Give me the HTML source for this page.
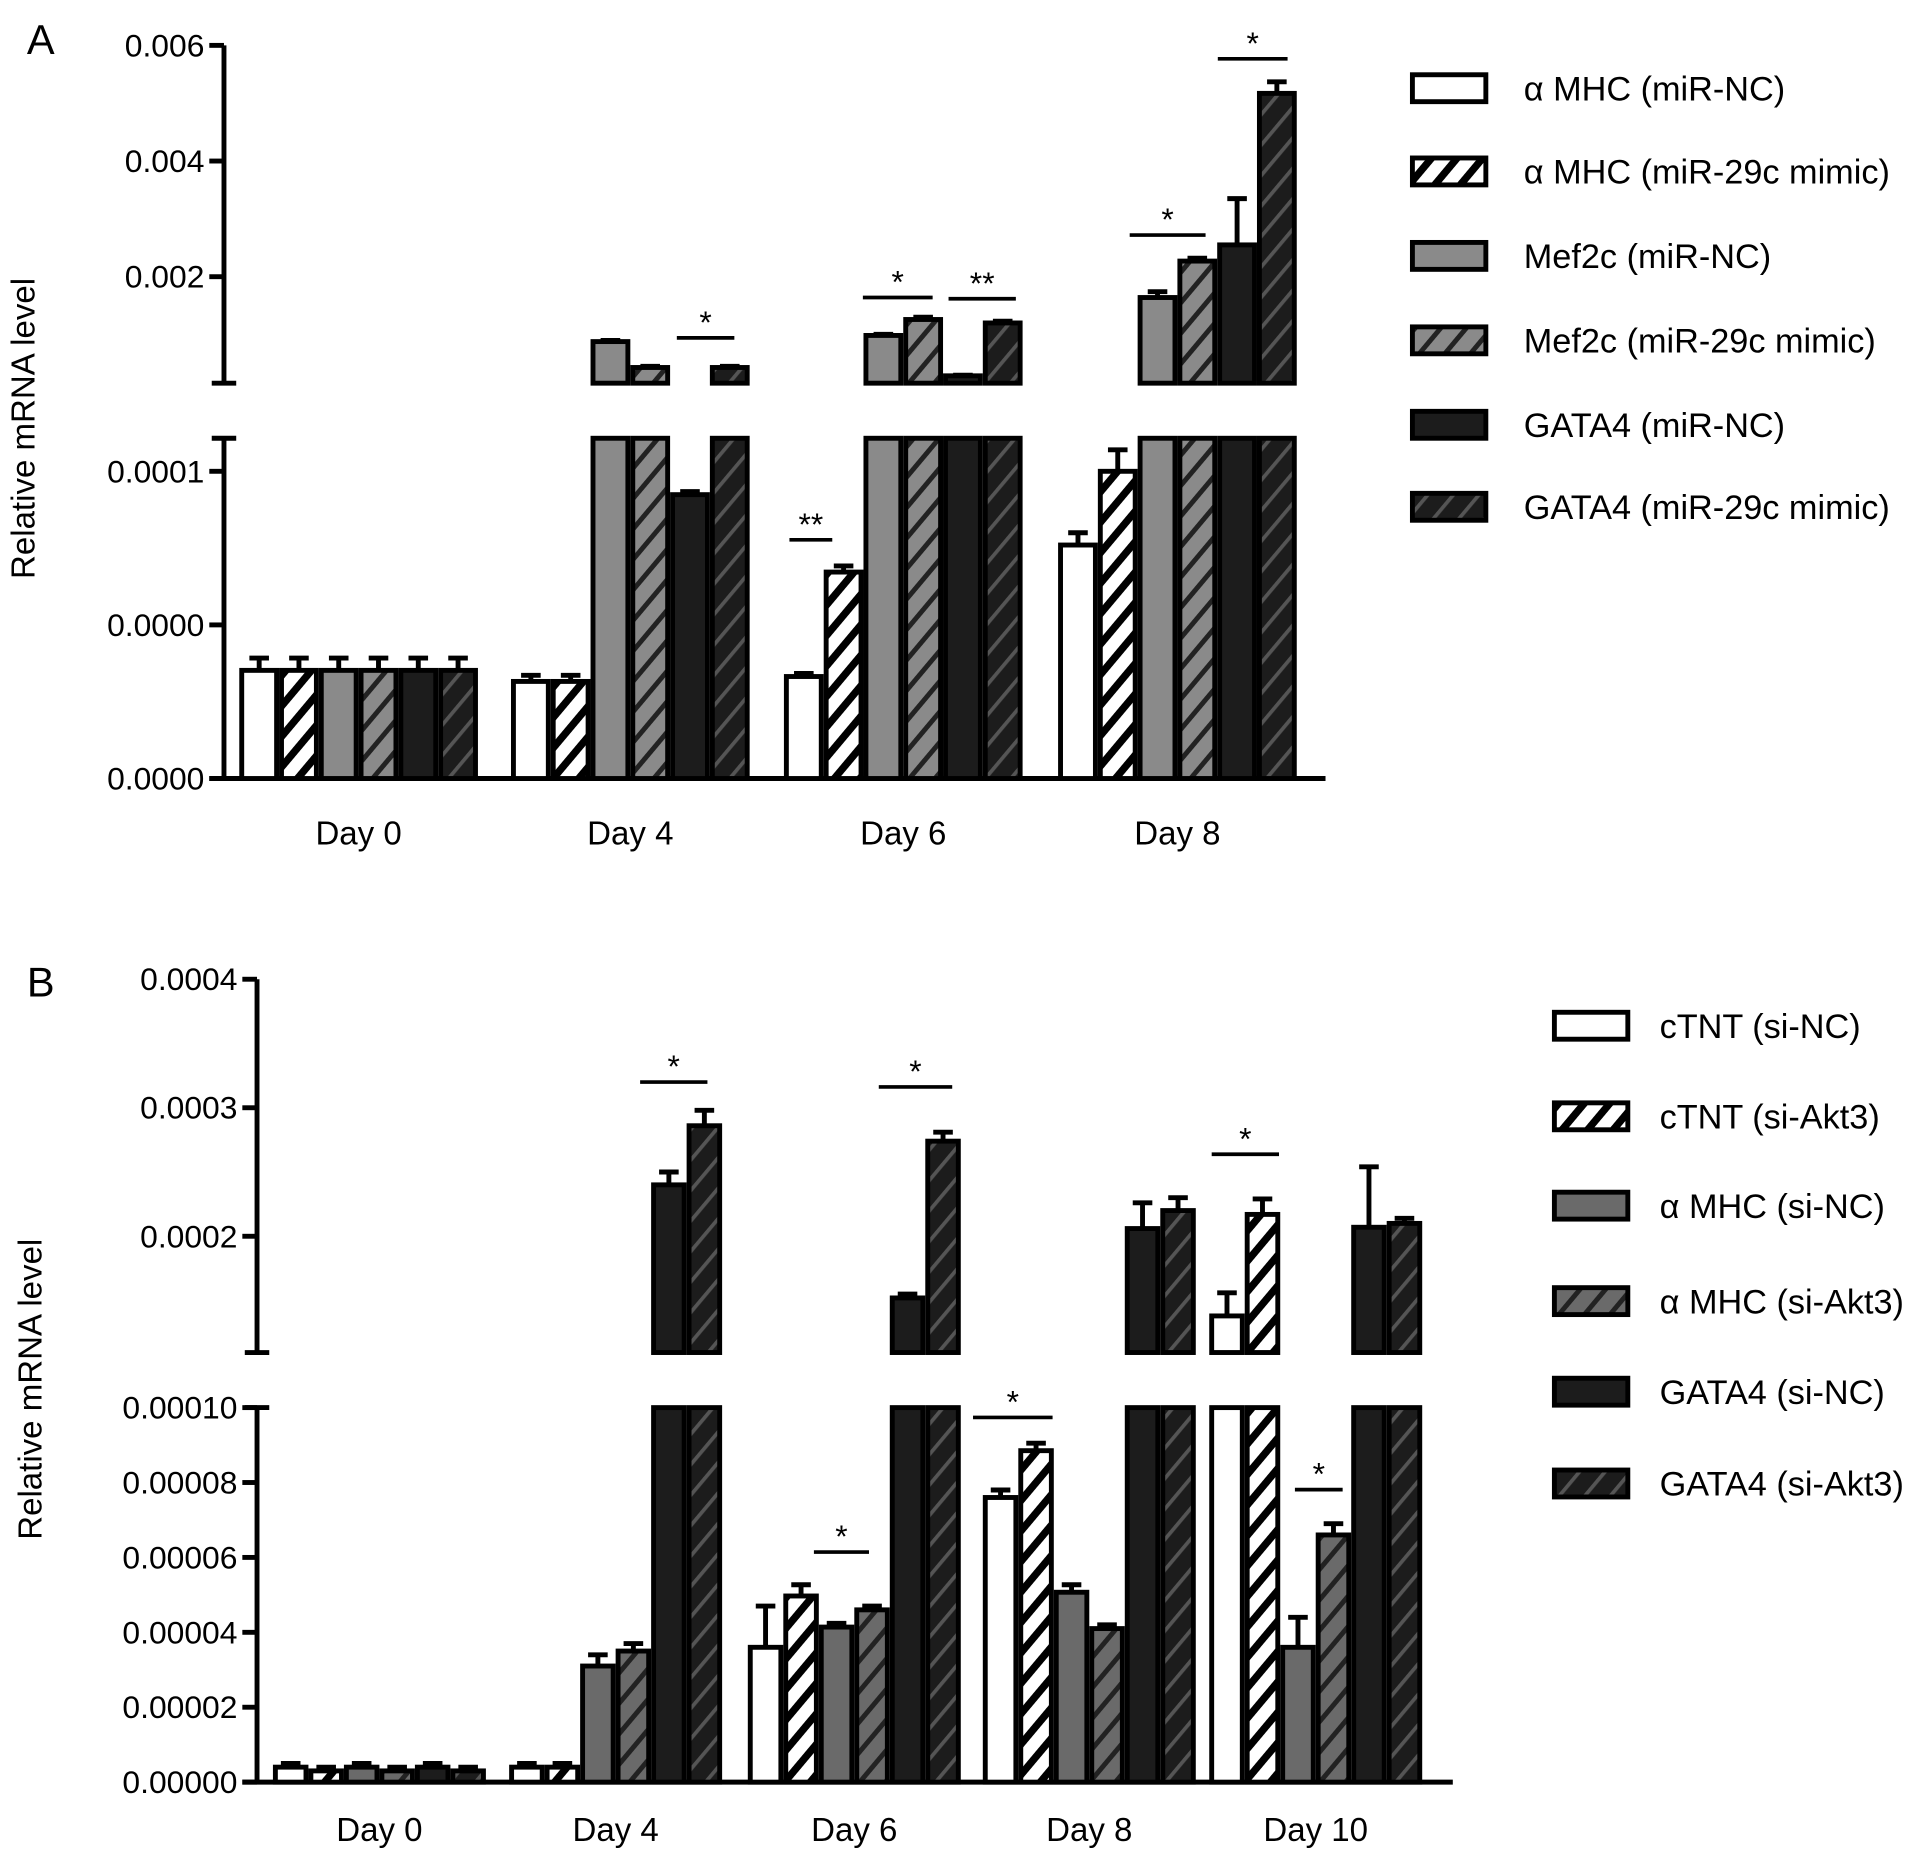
<!DOCTYPE html>
<html><head><meta charset="utf-8"><style>
html,body{margin:0;padding:0;background:#fff;}
svg{display:block;font-family:"Liberation Sans",sans-serif;}
</style></head><body>
<svg id="chart" width="1913" height="1863" viewBox="0 0 1563 1522" xmlns="http://www.w3.org/2000/svg">
<defs>
<pattern id="hw" patternUnits="userSpaceOnUse" width="16" height="16" patternTransform="rotate(40)"><rect width="16" height="16" fill="#fff"/><rect width="6" height="16" fill="#000"/></pattern>
<pattern id="hg" patternUnits="userSpaceOnUse" width="16" height="16" patternTransform="rotate(40)"><rect width="16" height="16" fill="#8a8a8a"/><rect width="4" height="16" fill="#222"/></pattern>
<pattern id="hg2" patternUnits="userSpaceOnUse" width="16" height="16" patternTransform="rotate(40)"><rect width="16" height="16" fill="#6a6a6a"/><rect width="4" height="16" fill="#222"/></pattern>
<pattern id="hd" patternUnits="userSpaceOnUse" width="16" height="16" patternTransform="rotate(40)"><rect width="16" height="16" fill="#1c1c1c"/><rect width="3" height="16" fill="#555"/></pattern>
</defs>
<g id="pa"></g>
<g id="pb"></g>
</svg>
<script>
// Panel A data
const daysA = ["Day 0","Day 4","Day 6","Day 8"];
const seriesA = ["α MHC (miR-NC)","α MHC (miR-29c mimic)","Mef2c (miR-NC)","Mef2c (miR-29c mimic)","GATA4 (miR-NC)","GATA4 (miR-29c mimic)"];
const valsA0 = [0.0000352,0.0000316,0.0000332,0.000076];
const valsA1 = [0.0000352,0.0000316,0.0000672,0.0001];
const valsA2 = [0.0000352,0.000878,0.000984,0.00164];
const valsA3 = [0.0000352,0.00043,0.00126,0.00227];
const valsA4 = [0.0000352,0.0000924,0.000286,0.00255];
const valsA5 = [0.0000352,0.00043,0.0012,0.00517];
const errA0 = [0.000004,0.000002,0.000001,0.000004];
const errA1 = [0.000004,0.000002,0.000002,0.000007];
const errA2 = [0.000004,0.00002,0.00002,0.0001];
const errA3 = [0.000004,0.00002,0.00004,0.00005];
const errA4 = [0.000004,0.000001,0.00001,0.0008];
const errA5 = [0.000004,0.00002,0.00003,0.0002];
const lowTicksA = ["0.0000","0.0000","0.0001"];
const upTicksA = ["0.002","0.004","0.006"];
// Panel B data
const daysB = ["Day 0","Day 4","Day 6","Day 8","Day 10"];
const seriesB = ["cTNT (si-NC)","cTNT (si-Akt3)","α MHC (si-NC)","α MHC (si-Akt3)","GATA4 (si-NC)","GATA4 (si-Akt3)"];
const valsB0 = [0.000004,0.000004,0.000036,0.000076,0.000138];
const valsB1 = [0.000003,0.000004,0.0000497,0.0000885,0.000217];
const valsB2 = [0.000004,0.000031,0.0000414,0.0000507,0.000036];
const valsB3 = [0.000003,0.000035,0.000046,0.000041,0.000066];
const valsB4 = [0.000004,0.00024,0.000152,0.000206,0.000207];
const valsB5 = [0.000003,0.000286,0.000274,0.00022,0.00021];
const errB0 = [0.000001,0.000001,0.000011,0.000002,0.000018];
const errB1 = [0.000001,0.000001,0.000003,0.000002,0.000012];
const errB2 = [0.000001,0.000003,0.000001,0.000002,0.000008];
const errB3 = [0.000001,0.000002,0.000001,0.000001,0.000003];
const errB4 = [0.000001,0.00001,0.000003,0.00002,0.000047];
const errB5 = [0.000001,0.000012,0.000007,0.00001,0.000004];
const lowTicksB = ["0.00000","0.00002","0.00004","0.00006","0.00008","0.00010"];
const upTicksB = ["0.0002","0.0003","0.0004"];

const NS="http://www.w3.org/2000/svg";
function el(parent,tag,attrs,text){const e=document.createElementNS(NS,tag);for(const k in attrs)e.setAttribute(k,attrs[k]);if(text!==undefined)e.textContent=text;parent.appendChild(e);return e;}

function panel(g,cfg){
  const {ax,base,lowTop,lowMax,lowScale,upBot,upTop,upMin,upMax,xEnd,centers,barW,vals,errs,fills,series,days,legX,legYs,legTxtX,lowTickVals,lowTickLabels,upTickVals,upTickLabels,letter,letterY,titleX,titleY,xLabY} = cfg;
  const yLow=v=>base-(v/lowMax)*(base-lowTop)*lowScale;
  const yUp=v=>upBot-(v-upMin)/(upMax-upMin)*(upBot-upTop);
  const t=el(g,'text',{x:22,y:letterY,'font-size':34});
  t.textContent=letter;
  
  
  let a=el(g,'path',{d:`M${ax},${base}V${lowTop}M${ax-10},${lowTop}H${ax+10}M${ax},${upBot}V${upTop}M${ax-10},${upBot}H${ax+10}`,stroke:'#000','stroke-width':4,fill:'none'});
  
  
  let xa=el(g,'line',{x1:ax-12,x2:xEnd,y1:base,y2:base,stroke:'#000','stroke-width':4});
  
  
  lowTickVals.forEach((v,i)=>{const y=yLow(v);el(g,'line',{x1:ax-12,x2:ax,y1:y,y2:y,stroke:'#000','stroke-width':4});
    const tl=el(g,'text',{x:ax-16,y:y+9,'font-size':26,'text-anchor':'end'},lowTickLabels[i]);
    
    });
  upTickVals.forEach((v,i)=>{const y=yUp(v);el(g,'line',{x1:ax-12,x2:ax,y1:y,y2:y,stroke:'#000','stroke-width':4});
    const tl=el(g,'text',{x:ax-16,y:y+9,'font-size':26,'text-anchor':'end'},upTickLabels[i]);
    
    });
  const yt=el(g,'text',{x:0,y:0,'font-size':27,'text-anchor':'middle',transform:`translate(${titleX},${titleY}) rotate(-90)`},'Relative mRNA level');
  
  
  days.forEach((d,di)=>{
    const xl=el(g,'text',{x:centers[di],y:xLabY,'font-size':27,'text-anchor':'middle'},d);
    
    
    series.forEach((s,si)=>{
      const v=vals[si][di], e=errs[si][di];
      const x=centers[di]-3*barW+si*barW;
      const bg=el(g,'g',{});
      
      
      const st={fill:fills[si],stroke:'#000','stroke-width':4};
      let topY;
      if(yLow(v)>=lowTop){topY=yLow(v);el(bg,'rect',Object.assign({x:x+2,y:topY,width:barW-4,height:base-topY},st));
        const ye=yLow(v+e);el(bg,'path',{d:`M${x+barW/2},${topY}V${ye}M${x+barW/2-8},${ye}H${x+barW/2+8}`,stroke:'#000','stroke-width':4,fill:'none'});}
      else{el(bg,'rect',Object.assign({x:x+2,y:lowTop,width:barW-4,height:base-lowTop},st));
        topY=yUp(v);el(bg,'rect',Object.assign({x:x+2,y:topY,width:barW-4,height:upBot-topY},st));
        const ye=yUp(v+e);el(bg,'path',{d:`M${x+barW/2},${topY}V${ye}M${x+barW/2-8},${ye}H${x+barW/2+8}`,stroke:'#000','stroke-width':4,fill:'none'});}
    });
  });
  series.forEach((s,si)=>{
    const lg=el(g,'g',{});
    
    
    el(lg,'rect',{x:legX,y:legYs[si]-11,width:60,height:22,fill:fills[si],stroke:'#000','stroke-width':4});
    el(lg,'text',{x:legTxtX,y:legYs[si]+10,'font-size':28},s);
  });
  return {yLow,yUp};
}
function sig(g,x1,x2,y,label){
  const sg=el(g,'g',{});
  
  
  el(sg,'line',{x1,x2,y1:y,y2:y,stroke:'#000','stroke-width':3});
  el(sg,'text',{x:(x1+x2)/2,y:y-4,'font-size':26,'text-anchor':'middle'},label);
}
const ga=document.getElementById('pa');
panel(ga,{ax:183,base:636,lowTop:358,lowMax:0.0001,lowScale:(636-385)/(636-358),upBot:313,upTop:37,upMin:0.006-276/47250,upMax:0.006,xEnd:1083,
 centers:[293,515,738,962],barW:32.5,vals:[valsA0,valsA1,valsA2,valsA3,valsA4,valsA5],errs:[errA0,errA1,errA2,errA3,errA4,errA5],
 fills:['#fff','url(#hw)','#8a8a8a','url(#hg)','#1c1c1c','url(#hd)'],series:seriesA,days:daysA,legX:1154,legYs:[72,140,209,278,347,414],legTxtX:1245,
 lowTickVals:[0,0.00005,0.0001],lowTickLabels:lowTicksA,upTickVals:[0.002,0.004,0.006],upTickLabels:upTicksA,letter:'A',letterY:44,titleX:28,titleY:350,xLabY:690});
sig(ga,553,600,276,'*');sig(ga,705,762,243,'*');sig(ga,775,830,244,'**');sig(ga,645,680,441,'**');sig(ga,923,985,192,'*');sig(ga,995,1052,48,'*');
const gb=document.getElementById('pb');
panel(gb,{ax:210,base:1456,lowTop:1150,lowMax:0.0001,lowScale:1,upBot:1105,upTop:800,upMin:0.0004-305/1050000,upMax:0.0004,xEnd:1187,
 centers:[310,503,698,890,1075],barW:29,vals:[valsB0,valsB1,valsB2,valsB3,valsB4,valsB5],errs:[errB0,errB1,errB2,errB3,errB4,errB5],
 fills:['#fff','url(#hw)','#6a6a6a','url(#hg2)','#1c1c1c','url(#hd)'],series:seriesB,days:daysB,legX:1270,legYs:[838,912,985,1063,1137,1212],legTxtX:1356,
 lowTickVals:[0,0.00002,0.00004,0.00006,0.00008,0.0001],lowTickLabels:lowTicksB,upTickVals:[0.0002,0.0003,0.0004],upTickLabels:upTicksB,letter:'B',letterY:814,titleX:34,titleY:1135,xLabY:1504});
sig(gb,523,578,884,'*');sig(gb,718,778,888,'*');sig(gb,665,710,1268,'*');sig(gb,795,860,1158,'*');sig(gb,990,1045,943,'*');sig(gb,1058,1097,1217,'*');
</script>
</body></html>
